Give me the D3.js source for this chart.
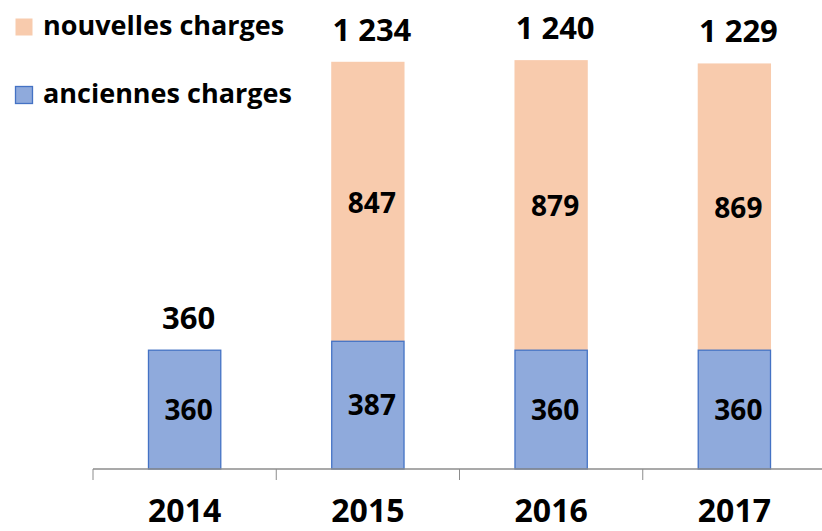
<!DOCTYPE html>
<html>
<head>
<meta charset="utf-8">
<script src="https://cdn.jsdelivr.net/npm/d3@7"></script>
<style>
  body { margin: 0; background: #fff; }
  text { font-family: "Open Sans", sans-serif; font-weight: bold; fill: #000; }
</style>
</head>
<body>
<svg id="chart" width="822" height="531"></svg>
<script>
const years = ["2014", "2015", "2016", "2017"];
const anciennes = [360, 387, 360, 360];
const nouvelles = [0, 847, 879, 869];
const totals = ["360", "1 234", "1 240", "1 229"];
const seriesNames = ["nouvelles charges", "anciennes charges"];

const blue = "#8FAADC", blueLine = "#4472C4", orange = "#F8CBAD";

const svg = d3.select("#chart");

const x = d3.scaleBand()
    .domain(years)
    .range([93, 826])
    .paddingInner(0.6)
    .paddingOuter(0.3);

const y = d3.scaleLinear()
    .domain([0, 1400])
    .range([469, 7]);

const rows = years.map((yr, i) => ({
    year: yr, old: anciennes[i], neu: nouvelles[i], total: totals[i]
}));

// new charges (top segment)
svg.selectAll(".neu")
    .data(rows.filter(d => d.neu > 0))
    .enter().append("rect")
    .attr("x", d => x(d.year))
    .attr("width", x.bandwidth())
    .attr("y", d => y(d.old + d.neu))
    .attr("height", d => y(d.old) - y(d.old + d.neu))
    .attr("fill", orange);

// old charges (bottom segment)
svg.selectAll(".old")
    .data(rows)
    .enter().append("rect")
    .attr("x", d => x(d.year) + 0.5)
    .attr("width", x.bandwidth() - 1)
    .attr("y", d => y(d.old))
    .attr("height", d => y(0) - y(d.old))
    .attr("fill", blue)
    .attr("stroke", blueLine)
    .attr("stroke-width", 1.3);

// axis
const step = x.step();
const edges = years.map(d => x(d) - step * x.paddingOuter()).concat([x.range()[1]]);
svg.append("line")
    .attr("x1", x.range()[0]).attr("x2", x.range()[1])
    .attr("y1", y(0)).attr("y2", y(0))
    .attr("stroke", "#8c8c8c").attr("stroke-width", 1.5);
svg.selectAll(".tick")
    .data(edges)
    .enter().append("line")
    .attr("x1", d => d).attr("x2", d => d)
    .attr("y1", y(0)).attr("y2", y(0) + 11)
    .attr("stroke", "#8c8c8c").attr("stroke-width", 1);

svg.selectAll(".year")
    .data(years)
    .enter().append("text")
    .attr("x", d => x(d) + x.bandwidth() / 2)
    .attr("y", 522)
    .attr("text-anchor", "middle")
    .style("font-size", "32px")
    .text(d => d);

// labels inside segments
svg.selectAll(".lblOld")
    .data(rows)
    .enter().append("text")
    .attr("x", d => x(d.year) + x.bandwidth() / 2 + 4)
    .attr("y", d => (y(0) + y(d.old)) / 2 + 10)
    .attr("text-anchor", "middle")
    .style("font-size", "28px")
    .text(d => d.old);

svg.selectAll(".lblNeu")
    .data(rows.filter(d => d.neu > 0))
    .enter().append("text")
    .attr("x", d => x(d.year) + x.bandwidth() / 2 + 4)
    .attr("y", d => (y(d.old) + y(d.old + d.neu)) / 2 + 11)
    .attr("text-anchor", "middle")
    .style("font-size", "28px")
    .text(d => d.neu);

// totals
svg.selectAll(".lblTot")
    .data(rows)
    .enter().append("text")
    .attr("x", d => x(d.year) + x.bandwidth() / 2 + 4)
    .attr("y", d => y(d.old + d.neu) - 21)
    .attr("text-anchor", "middle")
    .style("font-size", "31px")
    .text(d => d.total);

// legend
const legend = svg.append("g");
const legendColors = [orange, blue];
const legendY = [18, 86];
seriesNames.forEach((name, i) => {
    legend.append("rect")
        .attr("x", 15.5).attr("y", legendY[i] + 0.5)
        .attr("width", 17).attr("height", 17)
        .attr("fill", legendColors[i])
        .attr("stroke", i === 1 ? blueLine : "none")
        .attr("stroke-width", 1.3);
    legend.append("text")
        .attr("x", 43)
        .attr("y", legendY[i] + 17)
        .style("font-size", "27px")
        .text(name);
});
</script>
</body>
</html>
